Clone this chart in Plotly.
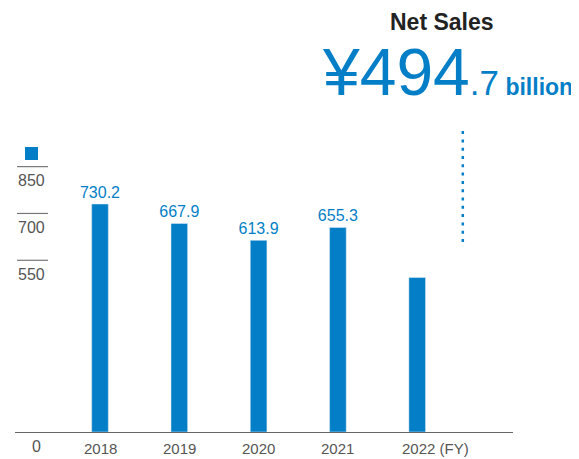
import plotly.graph_objects as go

# datos
years = ["2018", "2019", "2020", "2021", "2022"]
year_labels = ["2018", "2019", "2020", "2021", "2022 (FY)"]
net_sales = [730.2, 667.9, 613.9, 655.3, 494.7]
tick_values = [850, 700, 550]
tick_labels = ["850", "700", "550"]

blue = "#047fc7"
gray = "#555555"

# la pagina tiene un margen de 8px en el body
OFF = 8
W, H = 579 - OFF, 459 - OFF
ML, MR, MT, MB = 15 - OFF, 66, 0, 27
PW, PH = W - ML - MR, H - MT - MB


# helpers: pixel de la pagina -> paper
def px(x):
    return (x - OFF - ML) / PW


def py(y):
    return (H - MB - (y - OFF)) / PH


pos = list(range(len(years)))
fig = go.Figure(go.Bar(
    x=pos, y=net_sales, width=0.21,
    marker_color=blue,
    text=[f"{v:.1f}" for v in net_sales[:-1]] + [""],
    textposition="outside",
    constraintext="none",
    textfont=dict(color=blue, size=16),
    cliponaxis=False,
    hoverinfo="skip",
))

# lineas de escala
shapes = []
annotations = []
for v, t in zip(tick_values, tick_labels):
    shapes.append(dict(type="line", xref="paper", yref="y", x0=px(17), x1=px(48),
                       y0=v, y1=v, line=dict(color="#777777", width=1.2)))
    annotations.append(dict(text=t, xref="paper", yref="y", x=px(16), y=v, yshift=-14,
                            xanchor="left", yanchor="middle", showarrow=False,
                            font=dict(color=gray, size=16)))
annotations.append(dict(text="0", xref="paper", yref="paper", x=px(36), y=py(446),
                        xanchor="center", yanchor="middle", showarrow=False,
                        font=dict(color=gray, size=16)))
# etiquetas de anos
for i, t in enumerate(year_labels):
    if "(" in t:
        annotations.append(dict(text=t, x=i, xshift=-17, xanchor="left", yref="paper", y=py(448),
                                yanchor="middle", showarrow=False, font=dict(color=gray, size=15)))
    else:
        annotations.append(dict(text=t, x=i, xanchor="center", yref="paper", y=py(448),
                                yanchor="middle", showarrow=False, font=dict(color=gray, size=15)))

# cuadrado azul
shapes.append(dict(type="rect", xref="paper", yref="paper", x0=px(25), x1=px(38),
                   y0=py(160), y1=py(147), fillcolor=blue, line=dict(width=0)))

# linea punteada
shapes.append(dict(type="line", xref="x", yref="paper", x0=4.575, x1=4.575,
                   y0=py(242), y1=py(128), line=dict(color=blue, width=2.5, dash="3px,5.3px")))

# titulo
annotations.append(dict(text="<b>Net Sales</b>", xref="paper", yref="paper", x=px(442), y=py(22),
                        xanchor="center", yanchor="middle", showarrow=False,
                        font=dict(color="#222222", size=23)))
annotations.append(dict(
    text="¥494<span style='font-size:35px'>.7</span><b><span style='font-size:23px'> billion</span></b>",
    xref="paper", yref="paper", x=px(320), y=py(72), xanchor="left", yanchor="middle",
    showarrow=False, font=dict(color=blue, size=66, weight=300)))

fig.update_layout(
    width=W, height=H,
    margin=dict(l=ML, r=MR, t=MT, b=MB),
    plot_bgcolor="white", paper_bgcolor="white",
    font=dict(family="Liberation Sans, Arial, sans-serif"),
    showlegend=False,
    xaxis=dict(range=[(15 - 100) / 79.3, (513 - 100) / 79.3], showticklabels=False,
               showgrid=False, zeroline=False, showline=False),
    yaxis=dict(range=[0, PH / 0.3122], showticklabels=False, showgrid=False,
               zeroline=True, zerolinecolor="#666666", zerolinewidth=1.2, showline=False),
    shapes=shapes,
    annotations=annotations,
)

fig.write_html("out.html")
